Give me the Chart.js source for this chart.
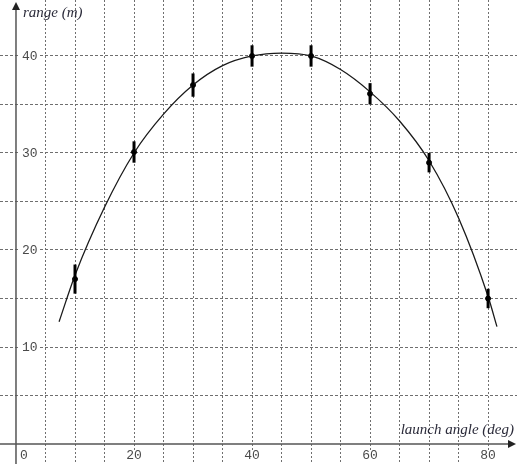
<!DOCTYPE html>
<html>
<head>
<meta charset="utf-8">
<script src="https://cdn.jsdelivr.net/npm/chart.js@4/dist/chart.umd.min.js"></script>
<style>
  body { margin: 0; background: #fff; }
  #wrap { width: 517px; height: 464px; }
</style>
</head>
<body>
<div id="wrap"><canvas id="rangeChart" width="517" height="464"></canvas></div>
<script>
// measured points (launch angle in deg, range in m) and their error bars
const angles = [10, 20, 30, 40, 50, 60, 70, 80];
const ranges = [17, 30.1, 37, 40, 40, 36.1, 29, 15];
const errors = [1.5, 1.1, 1.2, 1.1, 1.1, 1.1, 1.0, 1.0];

// fitted curve
const curveX = [7.3, 10, 15, 20, 25, 30, 35, 40, 45, 50, 55, 60, 65, 70, 75, 80, 81.5];
const curveY = [12.6, 17.4, 24.4, 30, 34, 37, 39, 40, 40.3, 40, 38.6, 36.3, 33.3, 29.2, 23.3, 15.2, 12.1];

const xTickLabels = [0, 20, 40, 60, 80];
const yTickLabels = [10, 20, 30, 40];

const gridColor = "#6f6f6f";
const axisColor = "#555";
const tickFont = "13px 'Liberation Mono', monospace";
const titleFont = "italic 15px 'Liberation Serif', serif";

const decorPlugin = {
  id: "decor",
  afterDatasetsDraw(chart) {
    const { ctx, chartArea, scales } = chart;
    const x = scales.x, y = scales.y;
    const x0 = x.getPixelForValue(0);
    const y0 = y.getPixelForValue(0);
    ctx.save();

    // error bars
    ctx.strokeStyle = "#000";
    ctx.lineWidth = 3;
    angles.forEach((a, i) => {
      const px = x.getPixelForValue(a);
      ctx.beginPath();
      ctx.moveTo(px, y.getPixelForValue(ranges[i] + errors[i]));
      ctx.lineTo(px, y.getPixelForValue(ranges[i] - errors[i]));
      ctx.stroke();
    });

    // tick labels with white backing
    ctx.font = tickFont;
    ctx.textBaseline = "middle";
    yTickLabels.forEach(v => {
      const py = y.getPixelForValue(v);
      const t = String(v);
      const w = ctx.measureText(t).width;
      ctx.fillStyle = "#fff";
      ctx.fillRect(x0 + 4, py - 6, w + 4, 12);
      ctx.fillStyle = "#4a4a4a";
      ctx.textAlign = "left";
      ctx.fillText(t, x0 + 6, py + 1);
    });
    xTickLabels.forEach(v => {
      const t = String(v);
      const w = ctx.measureText(t).width;
      let px = x.getPixelForValue(v);
      if (v === 0) px = x0 + 4 + w / 2;
      ctx.fillStyle = "#fff";
      ctx.fillRect(px - w / 2 - 2, y0 + 6, w + 4, 12);
      ctx.fillStyle = "#4a4a4a";
      ctx.textAlign = "center";
      ctx.fillText(t, px, y0 + 12);
    });

    // axes with arrow heads
    ctx.strokeStyle = axisColor;
    ctx.fillStyle = "#222";
    ctx.lineWidth = 1.5;
    ctx.beginPath();
    ctx.moveTo(x0, chartArea.bottom);
    ctx.lineTo(x0, chartArea.top + 6);
    ctx.moveTo(chartArea.left, y0);
    ctx.lineTo(chartArea.right - 6, y0);
    ctx.stroke();
    ctx.beginPath();
    ctx.moveTo(x0, chartArea.top + 2);
    ctx.lineTo(x0 - 4, chartArea.top + 10);
    ctx.lineTo(x0 + 4, chartArea.top + 10);
    ctx.closePath();
    ctx.fill();
    ctx.beginPath();
    ctx.moveTo(chartArea.right - 1, y0);
    ctx.lineTo(chartArea.right - 9, y0 - 4);
    ctx.lineTo(chartArea.right - 9, y0 + 4);
    ctx.closePath();
    ctx.fill();

    // axis titles
    ctx.font = titleFont;
    ctx.fillStyle = "#2b2b3a";
    ctx.textBaseline = "alphabetic";
    ctx.textAlign = "left";
    ctx.fillText("range (m)", x0 + 7, chartArea.top + 17);
    ctx.textAlign = "right";
    ctx.fillText("launch angle (deg)", chartArea.right - 3, y0 - 10);
    ctx.restore();
  }
};

function renderRangeChart() {
  const ctx = document.getElementById("rangeChart").getContext("2d");
  new Chart(ctx, {
    type: "scatter",
    data: {
      datasets: [
        {
          label: "fit",
          data: curveX.map((v, i) => ({ x: v, y: curveY[i] })),
          showLine: true,
          borderColor: "#1a1a1a",
          borderWidth: 1.3,
          pointRadius: 0,
          cubicInterpolationMode: "monotone",
        },
        {
          label: "measured",
          data: angles.map((v, i) => ({ x: v, y: ranges[i] })),
          backgroundColor: "#000",
          borderColor: "#000",
          pointRadius: 2.5,
        },
      ],
    },
    options: {
      responsive: false,
      animation: false,
      layout: { padding: 0, autoPadding: false },
      plugins: {
        legend: { display: false },
        tooltip: { enabled: false },
      },
      scales: {
        x: {
          type: "linear",
          min: -2.71,
          max: 84.9,
          afterFit: s => { s.height = 0; },
          ticks: { display: false, stepSize: 5, includeBounds: false },
          grid: {
            drawTicks: false,
            lineWidth: 1,
            color: c => (c.tick && c.tick.value === 0 ? "rgba(0,0,0,0)" : gridColor),
          },
          border: { display: false, dash: [2, 2] },
        },
        y: {
          type: "linear",
          min: -2.06,
          max: 45.77,
          afterFit: s => { s.width = 0; },
          ticks: { display: false, stepSize: 5, includeBounds: false },
          grid: {
            drawTicks: false,
            lineWidth: 1,
            color: c => (c.tick && (c.tick.value === 0 || c.tick.value === 45) ? "rgba(0,0,0,0)" : gridColor),
          },
          border: { display: false, dash: [3, 2] },
        },
      },
    },
    plugins: [decorPlugin],
  });
}

document.addEventListener("DOMContentLoaded", () => {
  renderRangeChart();
});
</script>
</body>
</html>
